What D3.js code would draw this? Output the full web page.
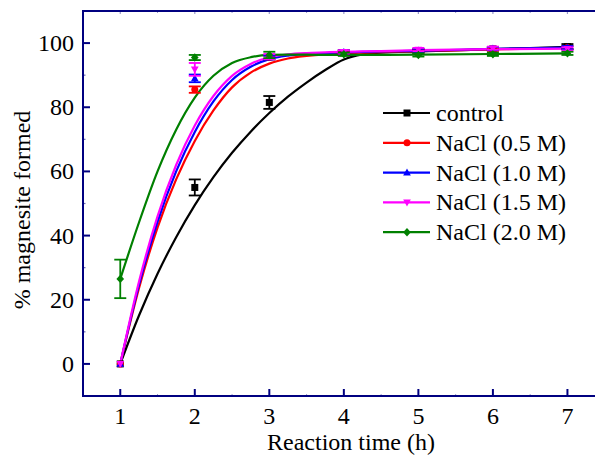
<!DOCTYPE html>
<html>
<head>
<meta charset="utf-8">
<script src="https://cdn.jsdelivr.net/npm/d3@7"></script>
<style>
  html, body { margin: 0; padding: 0; background: #fff; }
  svg { display: block; }
  text { font-family: "Liberation Serif", "Times New Roman", serif; }
</style>
</head>
<body>
<svg id="chart" width="595" height="459"></svg>
<script>
// Sampling times (h)
const times = [1, 2, 3, 4, 5, 6, 7];

// Measured % magnesite formed and standard deviations
const controlVals = [0, 55, 81.5, 97, 97.5, 98.2, 98.9];
const controlErr  = [0, 2.5, 2, 0.8, 0.5, 0.5, 0.8];
const nacl05Vals  = [0, 85.5, 95.5, 97, 97.6, 98.1, 98.6];
const nacl05Err   = [0, 1, 0.6, 0.5, 0.5, 0.5, 0.5];
const nacl10Vals  = [0, 89, 95.5, 97.2, 97.7, 98.3, 98.6];
const nacl10Err   = [0, 1.2, 0.6, 0.5, 0.5, 0.5, 0.5];
const nacl15Vals  = [0, 91.8, 95.8, 97.3, 98, 98.4, 98.2];
const nacl15Err   = [0, 2, 0.8, 0.5, 0.5, 0.5, 0.5];
const nacl20Vals  = [26.5, 95.5, 96.3, 96.5, 96.3, 96.5, 96.8];
const nacl20Err   = [6, 0.8, 1, 0.5, 0.5, 0.5, 0.5];

// Kinetic fit curves, sampled along the time axis
const fitTimes      = [1, 1.25, 1.5, 1.75, 2, 2.25, 2.5, 2.75, 3, 3.25, 3.5, 3.75, 4, 4.25, 4.5, 5, 6, 7];
const controlFit    = [0, 15, 28.1, 39.5, 49.5, 58.2, 65.8, 72.4, 78.2, 83.3, 87.7, 91.6, 94.9, 96.5, 97, 97.4, 98.1, 98.8];
const nacl05Fit     = [0, 23.5, 42.5, 57.5, 69.5, 79, 86.2, 90.8, 93.6, 95.2, 96, 96.5, 96.8, 97, 97.2, 97.5, 98, 98.5];
const nacl10Fit     = [0, 24.5, 44.3, 60, 72.3, 81.8, 88.5, 92.6, 95, 96.1, 96.6, 96.9, 97.1, 97.25, 97.4, 97.6, 98.2, 98.6];
const nacl15Fit     = [0, 25.5, 46, 62, 74.3, 83.5, 89.8, 93.5, 95.6, 96.5, 96.9, 97.1, 97.3, 97.4, 97.5, 97.8, 98.1, 98.3];
const nacl20Fit     = [26.5, 44, 60, 73, 83, 89.8, 93.8, 95.6, 96.3, 96.4, 96.4, 96.3, 96.3, 96.3, 96.3, 96.4, 96.6, 96.8];

const seriesNames  = ["control", "NaCl (0.5 M)", "NaCl (1.0 M)", "NaCl (1.5 M)", "NaCl (2.0 M)"];
const seriesColors = ["#000000", "#ff0000", "#0000ff", "#ff00ff", "#008000"];
const seriesShapes = ["square", "circle", "up", "down", "diamond"];

const xTicks = [1, 2, 3, 4, 5, 6, 7];
const yTicks = [0, 20, 40, 60, 80, 100];

const series = [
  { vals: controlVals, err: controlErr, fit: controlFit },
  { vals: nacl05Vals,  err: nacl05Err,  fit: nacl05Fit },
  { vals: nacl10Vals,  err: nacl10Err,  fit: nacl10Fit },
  { vals: nacl15Vals,  err: nacl15Err,  fit: nacl15Fit },
  { vals: nacl20Vals,  err: nacl20Err,  fit: nacl20Fit }
].map((s, i) => ({ ...s, name: seriesNames[i], color: seriesColors[i], shape: seriesShapes[i] }));

const svg = d3.select("#chart");
const axisColor = "#000080";
const plotLeft = 83, plotRight = 604.7, plotTop = 11, plotBottom = 396;

const x = d3.scaleLinear().domain([0.5, 7.5]).range([plotLeft, plotRight]);
const y = d3.scaleLinear().domain([-10, 110]).range([plotBottom, plotTop]);

// Marker path generator
function markerPath(shape, s) {
  const h = s / 2;
  switch (shape) {
    case "square": return `M${-h},${-h}H${h}V${h}H${-h}Z`;
    case "circle": return d3.symbol(d3.symbolCircle, Math.PI * h * h)();
    case "up":     return `M0,${-h * 1.15}L${h * 1.1},${h * 0.8}L${-h * 1.1},${h * 0.8}Z`;
    case "down":   return `M0,${h * 1.15}L${h * 1.1},${-h * 0.8}L${-h * 1.1},${-h * 0.8}Z`;
    case "diamond":return `M0,${-h * 1.2}L${h * 1.1},0L0,${h * 1.2}L${-h * 1.1},0Z`;
  }
}

// Fit curves
const line = d3.line().x(d => x(d[0])).y(d => y(d[1])).curve(d3.curveMonotoneX);
const plot = svg.append("g");
series.forEach(s => {
  plot.append("path")
    .attr("d", line(fitTimes.map((t, i) => [t, s.fit[i]])))
    .attr("fill", "none")
    .attr("stroke", s.color)
    .attr("stroke-width", 2.2);
});

// Data points with error bars
series.forEach(s => {
  const g = plot.append("g");
  times.forEach((t, i) => {
    const v = s.vals[i], e = s.err[i];
    const cx = x(t);
    if (e > 0) {
      g.append("line").attr("x1", cx).attr("x2", cx).attr("y1", y(v - e)).attr("y2", y(v + e))
        .attr("stroke", s.color).attr("stroke-width", 1.8);
      [v - e, v + e].forEach(b => {
        g.append("line").attr("x1", cx - 6).attr("x2", cx + 6).attr("y1", y(b)).attr("y2", y(b))
          .attr("stroke", s.color).attr("stroke-width", 1.8);
      });
    }
    g.append("path").attr("d", markerPath(s.shape, 7))
      .attr("transform", `translate(${cx},${y(v)})`)
      .attr("fill", s.color);
  });
});

// Frame and axes
const axes = svg.append("g").attr("stroke", axisColor).attr("fill", "none");
axes.append("path").attr("d", `M${plotRight},${plotTop}H${plotLeft}V${plotBottom}H${plotRight}`).attr("stroke-width", 2);

const xMinor = d3.range(1.5, 7.5, 1);
const yMinor = d3.range(-10, 110, 20).filter(v => v > -10);

xTicks.forEach(t => {
  axes.append("line").attr("x1", x(t)).attr("x2", x(t)).attr("y1", plotBottom).attr("y2", plotBottom - 7).attr("stroke-width", 2);
  axes.append("line").attr("x1", x(t)).attr("x2", x(t)).attr("y1", plotTop).attr("y2", plotTop + 3).attr("stroke-width", 1.2).attr("stroke-opacity", 0.4);
});
xMinor.forEach(t => {
  axes.append("line").attr("x1", x(t)).attr("x2", x(t)).attr("y1", plotBottom).attr("y2", plotBottom - 2).attr("stroke-width", 1).attr("stroke-opacity", 0.4);
  axes.append("line").attr("x1", x(t)).attr("x2", x(t)).attr("y1", plotTop).attr("y2", plotTop + 2).attr("stroke-width", 1).attr("stroke-opacity", 0.4);
});
yTicks.forEach(v => {
  axes.append("line").attr("x1", plotLeft).attr("x2", plotLeft + 7).attr("y1", y(v)).attr("y2", y(v)).attr("stroke-width", 2);
});
yMinor.forEach(v => {
  axes.append("line").attr("x1", plotLeft).attr("x2", plotLeft + 2.5).attr("y1", y(v)).attr("y2", y(v)).attr("stroke-width", 1.2).attr("stroke-opacity", 0.6);
});

// Tick labels
const labels = svg.append("g").attr("fill", "#000").attr("font-size", 24).attr("font-family", "Liberation Serif");
xTicks.forEach(t => {
  labels.append("text").attr("x", x(t)).attr("y", 424).attr("text-anchor", "middle").text(t);
});
yTicks.forEach(v => {
  labels.append("text").attr("x", 74).attr("y", y(v) + 8).attr("text-anchor", "end").text(v);
});

// Axis titles
labels.append("text").attr("x", 351).attr("y", 450).attr("text-anchor", "middle").text("Reaction time (h)");
labels.append("text").attr("transform", "translate(30,210) rotate(-90)").attr("text-anchor", "middle").text("% magnesite formed");

// Legend
const legend = svg.append("g");
series.forEach((s, i) => {
  const ly = 113 + i * 29.8;
  legend.append("line").attr("x1", 383).attr("x2", 430).attr("y1", ly).attr("y2", ly)
    .attr("stroke", s.color).attr("stroke-width", 2.2);
  legend.append("path").attr("d", markerPath(s.shape, 7)).attr("transform", `translate(407,${ly})`).attr("fill", s.color);
  legend.append("text").attr("x", 436).attr("y", ly + 8).attr("font-size", 24)
    .attr("font-family", "Liberation Serif").attr("fill", "#000").text(s.name);
});
</script>
</body>
</html>
